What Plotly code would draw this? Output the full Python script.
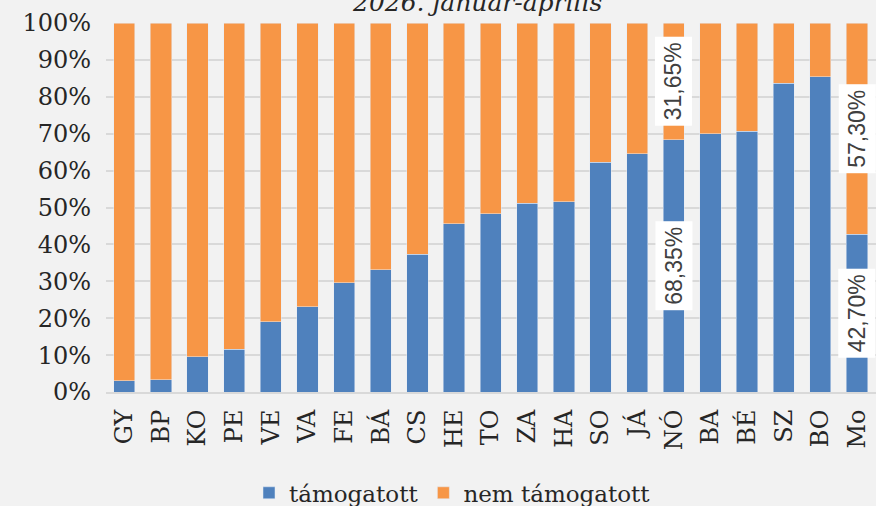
import plotly.graph_objects as go

categories = ["GY", "BP", "KO", "PE", "VE", "VA", "FE", "BÁ", "CS", "HE", "TO",
              "ZA", "HA", "SO", "JÁ", "NÓ", "BA", "BÉ", "SZ", "BO", "Mo"]
tamogatott = [3.0, 3.3, 9.5, 11.6, 19.0, 23.1, 29.6, 33.1, 37.3, 45.6, 48.3,
              51.1, 51.5, 62.2, 64.6, 68.35, 70.0, 70.6, 83.7, 85.4, 42.70]
nem_tamogatott = [round(100 - v, 2) for v in tamogatott]
labelled = ["NÓ", "Mo"]

blue = "#4F81BD"
orange = "#F79646"
serif = "DejaVu Serif"

fig = go.Figure()
fig.add_trace(go.Bar(x=categories, y=tamogatott, name="támogatott",
                     marker_color=blue))
fig.add_trace(go.Bar(x=categories, y=nem_tamogatott, name="nem támogatott",
                     marker_color=orange))


def pct(v):
    return f"{v:.2f}".replace(".", ",") + "%"


# white boxed labels, centred in each segment
for cat in labelled:
    i = categories.index(cat)
    a, b = tamogatott[i], nem_tamogatott[i]
    for text, yc in ((pct(a), a / 2), (pct(b), a + b / 2)):
        fig.add_annotation(x=cat, y=yc, xref="x", yref="y", text=text,
                           textangle=-90, showarrow=False, bgcolor="white",
                           borderpad=5,
                           font=dict(family="Liberation Sans", size=23, color="#404040"))

fig.add_annotation(text="<i>2026. január-április</i>", xref="paper", yref="paper",
                   x=0.482, y=1.0, yshift=21, yanchor="middle", showarrow=False,
                   font=dict(family=serif, size=25, color="#262626"))

fig.update_layout(
    barmode="stack",
    bargap=0.42,
    width=876, height=506,
    margin=dict(l=106, r=0, t=23, b=114),
    paper_bgcolor="#F2F2F2",
    plot_bgcolor="#F2F2F2",
    font=dict(family=serif, size=22, color="#262626"),
    showlegend=True,
    legend=dict(orientation="h", x=0.45, xanchor="center",
                yref="container", y=0.026, yanchor="middle",
                font=dict(family=serif, size=23),
                traceorder="normal", itemwidth=30),
)
fig.update_xaxes(tickangle=-90, showgrid=False, showline=True,
                 linecolor="#D9D9D9", linewidth=2, ticks="",
                 ticklabelstandoff=6, automargin=False,
                 tickfont=dict(family=serif, size=24))
fig.update_yaxes(range=[0, 100], dtick=10, ticksuffix="%", showgrid=True,
                 gridcolor="#D9D9D9", gridwidth=2, zeroline=False,
                 ticklabelstandoff=14, automargin=False,
                 tickfont=dict(family=serif, size=24))

fig.write_html("out.html",
               config={"displayModeBar": False},
               post_script="document.body.style.margin='0';"
                           "document.body.style.overflow='hidden';")
